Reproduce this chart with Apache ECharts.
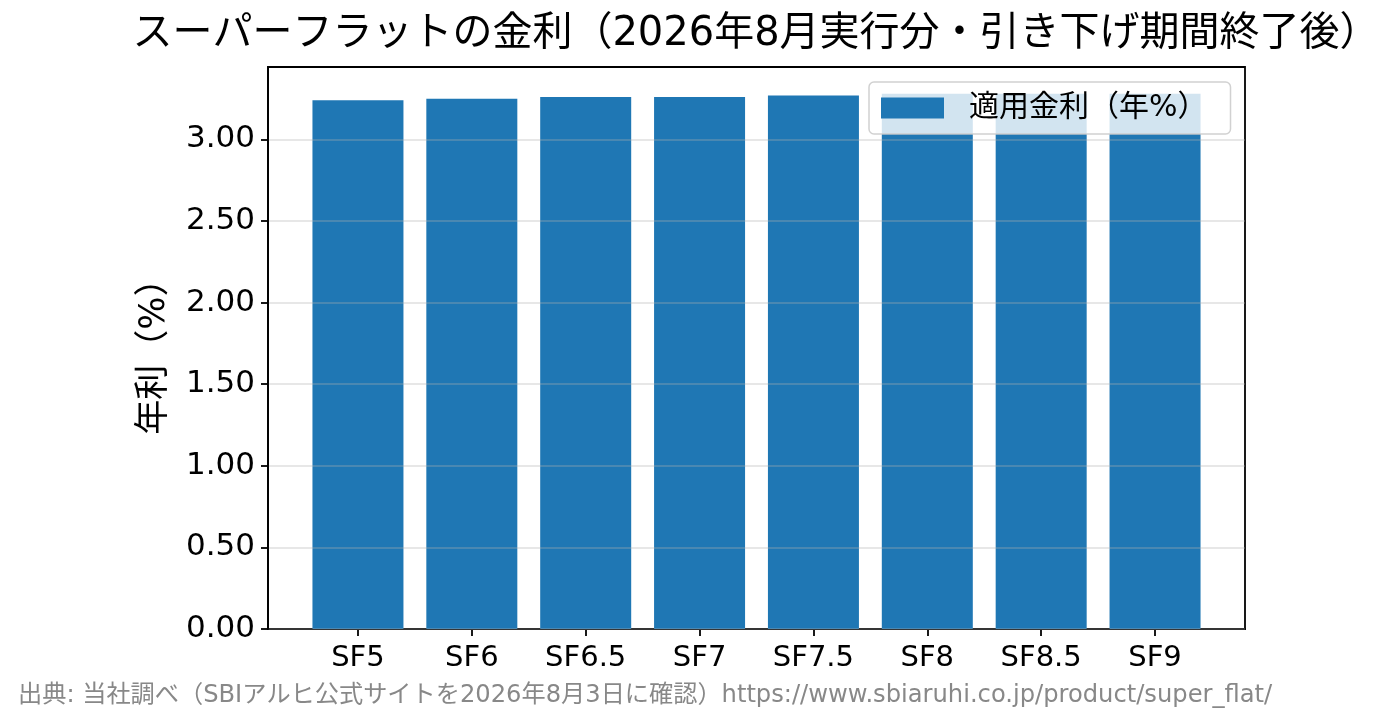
<!DOCTYPE html>
<html>
<head>
<meta charset="utf-8">
<script src="https://cdn.jsdelivr.net/npm/echarts@6/dist/echarts.min.js"></script>
<style>
  html, body { margin: 0; padding: 0; background: #fff; }
  #chart { width: 1396px; height: 725px; }
</style>
</head>
<body>
<div id="chart"></div>
<script>
// 商品名と適用金利（年%）
const categories = ['SF5', 'SF6', 'SF6.5', 'SF7', 'SF7.5', 'SF8', 'SF8.5', 'SF9'];
const rates = [3.24, 3.25, 3.26, 3.26, 3.27, 3.28, 3.28, 3.28];
const yTicks = [0, 0.5, 1.0, 1.5, 2.0, 2.5, 3.0];
const xTicks = [0, 1, 2, 3, 4, 5, 6, 7];

const FONT = '"DejaVu Sans", "Noto Sans CJK JP", sans-serif';
const yMax = Math.max(...rates) * 1.05;

var chart = echarts.init(document.getElementById('chart'));

var option = {
  backgroundColor: '#fff',
  animation: false,
  textStyle: { fontFamily: FONT },
  title: {
    text: 'スーパーフラットの金利（2026年8月実行分・引き下げ期間終了後）',
    left: 751,
    top: 10,
    textAlign: 'center',
    textStyle: { fontFamily: FONT, fontSize: 40, fontWeight: 'normal', color: '#000' }
  },
  legend: {
    data: ['適用金利（年%）'],
    left: 869,
    top: 82,
    z: 10,
    padding: [11, 23, 11, 12],
    itemWidth: 63,
    itemHeight: 21,
    itemGap: 0,
    icon: 'rect',
    backgroundColor: 'rgba(255,255,255,0.8)',
    borderColor: 'rgba(204,204,204,0.9)',
    borderWidth: 1.5,
    borderRadius: 5,
    textStyle: { fontFamily: FONT, fontSize: 30, color: '#000', padding: [0, 0, 0, 20] }
  },
  grid: {
    left: 268, right: 151, top: 67, bottom: 96,
    show: true,
    borderColor: '#000',
    borderWidth: 1.8,
    containLabel: false
  },
  xAxis: {
    type: 'value',
    min: -0.79,
    max: 7.79,
    splitLine: { show: false },
    axisLine: { show: true, onZero: false, lineStyle: { color: '#000', width: 1.8 } },
    axisTick: { show: true, length: 7, customValues: xTicks, lineStyle: { color: '#000', width: 1.8 } },
    axisLabel: {
      customValues: xTicks,
      margin: 15,
      fontFamily: FONT,
      fontSize: 29,
      color: '#000',
      formatter: function (v) { return categories[Math.round(v)]; }
    }
  },
  yAxis: {
    type: 'value',
    min: 0,
    max: yMax,
    z: 3,
    name: '年利（%）',
    nameLocation: 'middle',
    nameRotate: 90,
    nameGap: 96,
    nameTextStyle: { fontFamily: FONT, fontSize: 35, color: '#000' },
    axisLine: { show: true, onZero: false, lineStyle: { color: '#000', width: 1.8 } },
    axisTick: { show: true, length: 7, customValues: yTicks, lineStyle: { color: '#000', width: 1.8 } },
    axisLabel: {
      customValues: yTicks,
      margin: 13,
      fontFamily: FONT,
      fontSize: 31,
      color: '#000',
      formatter: function (v) { return v.toFixed(2); }
    },
    splitLine: { show: true, lineStyle: { color: 'rgba(176,176,176,0.3)', width: 1.8 } }
  },
  series: [
    {
      name: '適用金利（年%）',
      type: 'bar',
      barWidth: 91,
      itemStyle: { color: '#1f77b4' },
      data: categories.map(function (c, i) { return [xTicks[i], rates[i]]; })
    }
  ],
  graphic: [
    {
      type: 'text',
      left: 18,
      top: 684,
      style: {
        text: '出典: 当社調べ（SBIアルヒ公式サイトを2026年8月3日に確認）https://www.sbiaruhi.co.jp/product/super_flat/',
        font: '24.2px ' + FONT,
        fill: '#888'
      }
    }
  ]
};

chart.setOption(option);
</script>
</body>
</html>
